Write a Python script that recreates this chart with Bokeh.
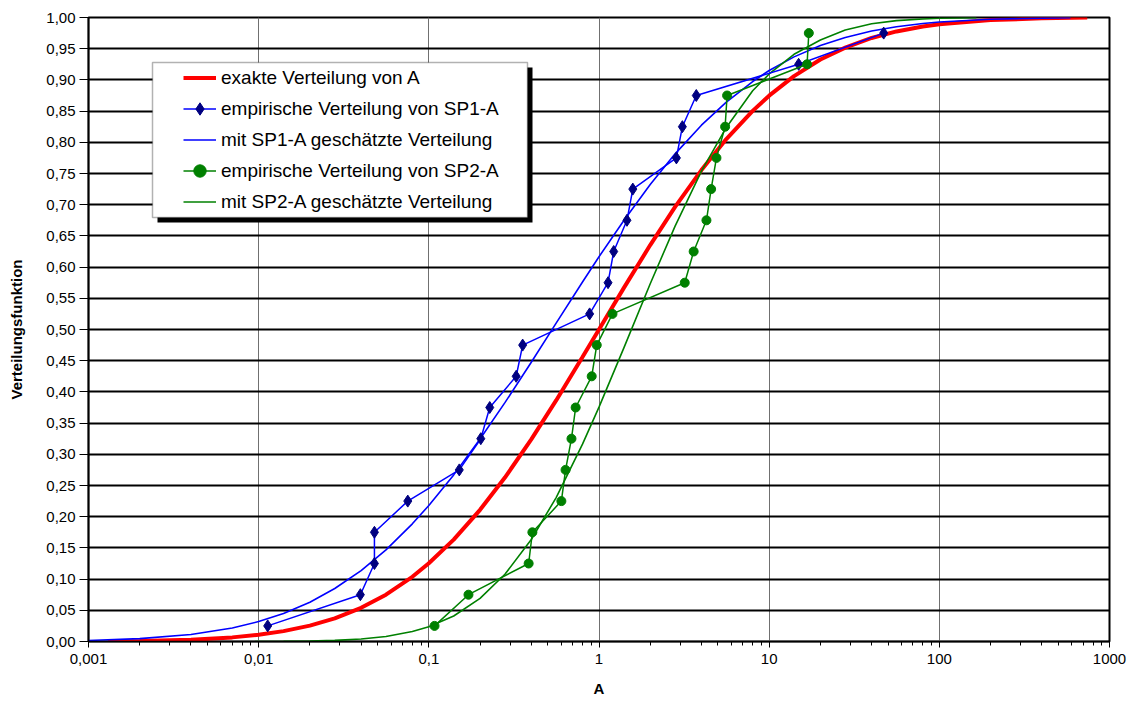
from bokeh.plotting import figure
from bokeh.models import (Range1d, FixedTicker, CustomJSTickFormatter, Legend,
                          LegendItem, BoxAnnotation)
from bokeh.embed import file_html
from bokeh.resources import INLINE

# ---------------- data ----------------
x_ticks = [0.001, 0.01, 0.1, 1, 10, 100, 1000]
x_tick_labels = ["0,001", "0,01", "0,1", "1", "10", "100", "1000"]
y_ticks = [0.0, 0.05, 0.1, 0.15, 0.2, 0.25, 0.3, 0.35, 0.4, 0.45, 0.5,
           0.55, 0.6, 0.65, 0.7, 0.75, 0.8, 0.85, 0.9, 0.95, 1.0]
y_tick_labels = ["0,00", "0,05", "0,10", "0,15", "0,20", "0,25", "0,30",
                 "0,35", "0,40", "0,45", "0,50", "0,55", "0,60", "0,65",
                 "0,70", "0,75", "0,80", "0,85", "0,90", "0,95", "1,00"]

# exakte Verteilung von A
exact_x = [0.0013, 0.002, 0.004, 0.007, 0.01, 0.014, 0.02, 0.028, 0.04,
           0.056, 0.08, 0.1, 0.14, 0.2, 0.28, 0.4, 0.56, 0.8, 1, 1.4, 2,
           2.8, 4, 5.6, 8, 10, 14, 20, 28, 40, 56, 80, 100, 200, 400, 740]
exact_y = [0.0005, 0.001, 0.0029, 0.0066, 0.0108, 0.0166, 0.0254, 0.0371,
           0.054, 0.075, 0.1037, 0.1253, 0.1633, 0.211, 0.2627, 0.3238,
           0.3863, 0.4558, 0.5, 0.5667, 0.6353, 0.6964, 0.7555, 0.8051,
           0.8504, 0.8747, 0.9061, 0.9326, 0.9518, 0.9672, 0.9777, 0.9856,
           0.9892, 0.9959, 0.9986, 0.9998]

# empirische Verteilung von SP1-A
sp1_x = [0.0113, 0.0396, 0.0479, 0.0479, 0.0752, 0.151, 0.202, 0.228, 0.326,
         0.356, 0.881, 1.13, 1.22, 1.46, 1.58, 2.85, 3.09, 3.73, 14.9, 47.1]
sp1_y = [0.025, 0.075, 0.125, 0.175, 0.225, 0.275, 0.325, 0.375, 0.425,
         0.475, 0.525, 0.575, 0.625, 0.675, 0.725, 0.775, 0.825, 0.875,
         0.925, 0.975]

# mit SP1-A geschätzte Verteilung
fit1_x = [0.001, 0.002, 0.004, 0.007, 0.01, 0.014, 0.02, 0.028, 0.04, 0.056,
          0.08, 0.1, 0.14, 0.2, 0.28, 0.4, 0.56, 0.8, 1, 1.4, 2, 2.8, 4,
          5.6, 8, 10, 14, 20, 28, 40, 56, 80, 100, 200, 400, 590]
fit1_y = [0.0017, 0.0046, 0.0112, 0.0216, 0.0319, 0.0448, 0.063, 0.0849,
          0.1137, 0.1469, 0.1886, 0.218, 0.267, 0.3246, 0.3828, 0.4475,
          0.5102, 0.5761, 0.6166, 0.6747, 0.7324, 0.7815, 0.8274, 0.8645,
          0.8974, 0.915, 0.9369, 0.955, 0.968, 0.9783, 0.9852, 0.9904,
          0.9928, 0.9972, 0.999, 0.9996]

# empirische Verteilung von SP2-A
sp2_x = [0.108, 0.171, 0.386, 0.406, 0.601, 0.636, 0.689, 0.729, 0.906,
         0.97, 1.2, 3.19, 3.6, 4.28, 4.56, 4.9, 5.51, 5.66, 16.7, 17.1]
sp2_y = [0.025, 0.075, 0.125, 0.175, 0.225, 0.275, 0.325, 0.375, 0.425,
         0.475, 0.525, 0.575, 0.625, 0.675, 0.725, 0.775, 0.825, 0.875,
         0.925, 0.975]

# mit SP2-A geschätzte Verteilung
fit2_x = [0.0095, 0.014, 0.02, 0.028, 0.04, 0.056, 0.08, 0.1, 0.14, 0.2,
          0.28, 0.4, 0.56, 0.8, 1, 1.4, 2, 2.8, 4, 5.6, 8, 10, 14, 20, 28,
          40, 56, 80, 100, 165]
fit2_y = [0.0001, 0.0003, 0.0008, 0.0018, 0.0041, 0.0081, 0.016, 0.0236,
          0.0409, 0.0692, 0.1077, 0.1635, 0.2306, 0.3163, 0.3756, 0.4705,
          0.5734, 0.6657, 0.7537, 0.8238, 0.8826, 0.9095, 0.9410, 0.9640,
          0.9800, 0.9900, 0.9950, 0.9977, 0.9987, 0.9998]

FONT = "Liberation Sans"

p = figure(width=1130, height=700, x_axis_type="log",
           x_range=Range1d(0.001, 1000), y_range=Range1d(0, 1),
           output_backend="svg", toolbar_location=None,
           min_border_left=88, min_border_right=21,
           min_border_top=17, min_border_bottom=59)
p.background_fill_color = "white"
p.border_fill_color = "white"
p.outline_line_color = "black"
p.outline_line_width = 2

# axes
minor = [m * d for d in x_ticks[:-1] for m in range(2, 10)]
p.xaxis.ticker = FixedTicker(ticks=x_ticks, minor_ticks=minor)
p.xaxis.formatter = CustomJSTickFormatter(
    args=dict(t=x_ticks, l=x_tick_labels),
    code="""
    let best = 0;
    for (let i = 0; i < t.length; i++) {
        if (Math.abs(Math.log10(t[i]) - Math.log10(tick)) <
            Math.abs(Math.log10(t[best]) - Math.log10(tick))) best = i;
    }
    return l[best];
    """)
p.yaxis.ticker = FixedTicker(ticks=y_ticks)
p.yaxis.formatter = CustomJSTickFormatter(
    args=dict(t=y_ticks, l=y_tick_labels),
    code="""
    let best = 0;
    for (let i = 0; i < t.length; i++) {
        if (Math.abs(t[i] - tick) < Math.abs(t[best] - tick)) best = i;
    }
    return l[best];
    """)

for ax in (p.xaxis[0], p.yaxis[0]):
    ax.axis_line_color = "black"
    ax.axis_line_width = 1.5
    ax.major_tick_line_color = "black"
    ax.minor_tick_line_color = "black"
    ax.major_tick_in = 0
    ax.minor_tick_in = 0
    ax.major_label_text_font = FONT
    ax.major_label_text_font_size = "15px"
    ax.major_label_text_color = "black"
    ax.axis_label_text_font = FONT
    ax.axis_label_text_font_size = "15px"
    ax.axis_label_text_font_style = "bold"
    ax.axis_label_text_color = "black"

p.xaxis.axis_label = "A"
p.yaxis.axis_label = "Verteilungsfunktion"
p.xaxis.major_tick_out = 6
p.xaxis.minor_tick_out = 4
p.yaxis.major_tick_out = 9
p.yaxis.minor_tick_line_color = None
p.xaxis.major_label_standoff = 6
p.yaxis.major_label_standoff = 4
p.xaxis.axis_label_standoff = 13
p.yaxis.axis_label_standoff = 18

# grids
p.xgrid.grid_line_color = "#707070"
p.xgrid.grid_line_width = 1
p.ygrid.grid_line_color = "black"
p.ygrid.grid_line_width = 2

# curves
r_exact = p.line(exact_x, exact_y, line_color="#FF0000", line_width=4)
r_fit1 = p.line(fit1_x, fit1_y, line_color="#0000FF", line_width=1.6)
r_fit2 = p.line(fit2_x, fit2_y, line_color="#008000", line_width=1.6)
r_sp1l = p.line(sp1_x, sp1_y, line_color="#0000FF", line_width=1.5)
r_sp1m = p.scatter(sp1_x, sp1_y, marker="diamond", size=12,
                   fill_color="#000080", line_color="#000080")
r_sp2l = p.line(sp2_x, sp2_y, line_color="#008000", line_width=1.5)
r_sp2m = p.scatter(sp2_x, sp2_y, marker="circle", size=9,
                   fill_color="#008000", line_color="#008000")

# legend frame and shadow (screen units relative to the frame)
shadow = BoxAnnotation(left=69, right=444, top=574, bottom=419,
                       left_units="screen", right_units="screen",
                       top_units="screen", bottom_units="screen",
                       fill_color="black", fill_alpha=1.0, line_color=None)
frame = BoxAnnotation(left=64, right=439, top=579, bottom=424,
                      left_units="screen", right_units="screen",
                      top_units="screen", bottom_units="screen",
                      fill_color="white", fill_alpha=1.0,
                      line_color="black", line_width=1.5)
p.add_layout(shadow)
p.add_layout(frame)

legend = Legend(items=[
    LegendItem(label="exakte Verteilung von A", renderers=[r_exact]),
    LegendItem(label="empirische Verteilung von SP1-A", renderers=[r_sp1l, r_sp1m]),
    LegendItem(label="mit SP1-A geschätzte Verteilung", renderers=[r_fit1]),
    LegendItem(label="empirische Verteilung von SP2-A", renderers=[r_sp2l, r_sp2m]),
    LegendItem(label="mit SP2-A geschätzte Verteilung", renderers=[r_fit2]),
], location=(95, 424))
legend.border_line_color = None
legend.background_fill_alpha = 0
legend.padding = 0
legend.margin = 0
legend.spacing = 0
legend.label_height = 31
legend.glyph_height = 31
legend.glyph_width = 33
legend.label_standoff = 5
legend.label_text_font = FONT
legend.label_text_font_size = "19px"
legend.label_text_color = "black"
p.add_layout(legend)

open("out.html", "w").write(file_html(p, INLINE))
